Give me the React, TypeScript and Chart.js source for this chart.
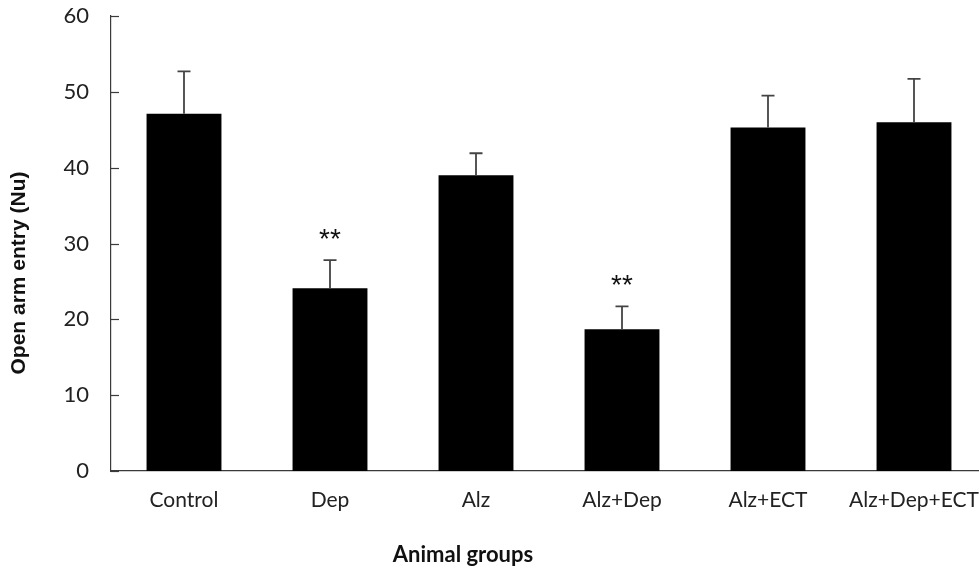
import React, { useEffect, useRef } from "react";
import { Chart, registerables } from "chart.js";

Chart.register(...registerables);

const categories = ["Control", "Dep", "Alz", "Alz+Dep", "Alz+ECT", "Alz+Dep+ECT"];
const means = [47.1, 24.1, 39.0, 18.7, 45.3, 46.0];
const sems = [5.6, 3.7, 2.9, 3.0, 4.2, 5.7];
const significance = ["", "**", "", "**", "", ""];
const yTicks = [0, 10, 20, 30, 40, 50, 60];
const yTitle = "Open arm entry (Nu)";
const xTitle = "Animal groups";

const tickFont = "Lato, 'Noto Sans', sans-serif";
const axisColor = "#3a3a3a";

const overlayPlugin = {
  id: "overlay",
  afterDatasetsDraw(chart: any) {
    const ctx = chart.ctx;
    const x = chart.scales.x;
    const y = chart.scales.y;
    const area = chart.chartArea;
    ctx.save();
    // inward y ticks
    ctx.strokeStyle = axisColor;
    ctx.lineWidth = 1.2;
    yTicks.forEach((v) => {
      const py = Math.round(y.getPixelForValue(v)) + 0.5;
      ctx.beginPath();
      ctx.moveTo(area.left, py);
      ctx.lineTo(area.left + 8, py);
      ctx.stroke();
    });
    // error bars
    ctx.strokeStyle = "#444444";
    ctx.lineWidth = 1.8;
    means.forEach((m, i) => {
      const px = x.getPixelForValue(i);
      const top = y.getPixelForValue(m + sems[i]);
      const base = y.getPixelForValue(m);
      ctx.beginPath();
      ctx.moveTo(px, base);
      ctx.lineTo(px, top);
      ctx.moveTo(px - 6.5, top);
      ctx.lineTo(px + 6.5, top);
      ctx.stroke();
      if (significance[i]) {
        ctx.fillStyle = "#111";
        ctx.font = "28px 'Liberation Sans', Arial, sans-serif";
        ctx.textAlign = "center";
        ctx.textBaseline = "middle";
        ctx.fillText(significance[i], px, top - 20);
      }
    });
    // axis titles
    ctx.fillStyle = "#111";
    ctx.font = "bold 22px Lato, sans-serif";
    ctx.textAlign = "center";
    ctx.textBaseline = "middle";
    ctx.fillText(xTitle, 463, 555);
    ctx.save();
    ctx.translate(19, 273);
    ctx.rotate(-Math.PI / 2);
    ctx.font = "bold 21px 'Liberation Sans', Arial, sans-serif";
    ctx.fillText(yTitle, 0, 0);
    ctx.restore();
    ctx.restore();
  },
};

export default function App() {
  const ref = useRef<HTMLCanvasElement>(null);
  useEffect(() => {
    if (!ref.current) return;
    const chart = new Chart(ref.current, {
      type: "bar",
      data: {
        labels: categories,
        datasets: [
          {
            data: means,
            backgroundColor: "#000000",
            borderWidth: 0,
            categoryPercentage: 1,
            barPercentage: 0.513,
          },
        ],
      },
      options: {
        animation: false,
        responsive: true,
        maintainAspectRatio: false,
        layout: { padding: { left: 0, right: 13, top: 16, bottom: 0 } },
        plugins: { legend: { display: false }, tooltip: { enabled: false } },
        scales: {
          x: {
            grid: { display: false, drawTicks: false },
            border: { display: true, color: axisColor, width: 1.2 },
            ticks: { color: "#222", font: { family: tickFont, size: 21 }, padding: 17 },
            afterFit: (s: any) => {
              s.height = 101;
              s.paddingLeft = 0;
              s.paddingRight = 0;
            },
          },
          y: {
            min: 0,
            max: 60,
            grid: { display: false, drawTicks: false },
            border: { display: true, color: axisColor, width: 1.2 },
            ticks: {
              stepSize: 10,
              color: "#222",
              font: { family: tickFont, size: 22 },
              padding: 22,
            },
            afterFit: (s: any) => {
              s.width = 111;
              s.paddingTop = 0;
              s.paddingBottom = 0;
            },
          },
        },
      },
      plugins: [overlayPlugin],
    });
    return () => chart.destroy();
  }, []);
  return (
    <div style={{ position: "absolute", left: 0, top: 0, width: 979, height: 572, overflow: "hidden", background: "#fff" }}>
      <div style={{ position: "relative", width: 1000, height: 572 }}>
        <canvas ref={ref} />
      </div>
    </div>
  );
}
